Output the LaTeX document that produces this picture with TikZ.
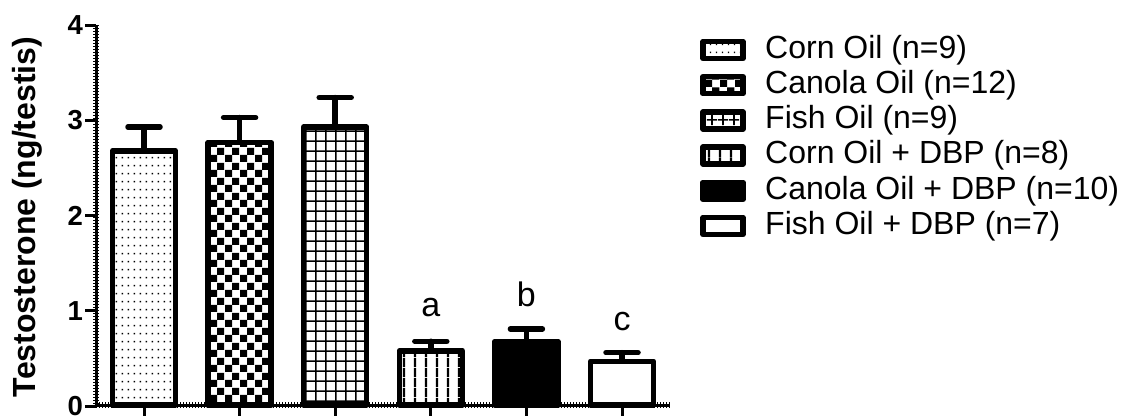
\documentclass[tikz,border=0pt]{standalone}
\usepackage{fontspec}
\setmainfont{Liberation Sans}
\usetikzlibrary{patterns.meta}

% fills of the six groups
\tikzdeclarepattern{
    name=dotfill,
    type=uncolored,
    bottom left={(0pt,0pt)},
    top right={(6pt,8pt)},
    tile size={(6pt,8pt)},
    code={\fill (2pt,3pt) rectangle (3.7pt,4.7pt);}
}
\tikzdeclarepattern{
    name=checkfill,
    type=uncolored,
    bottom left={(0pt,0pt)},
    top right={(15pt,15pt)},
    tile size={(15pt,15pt)},
    code={\fill (0pt,0pt) rectangle (7.5pt,7.5pt);
          \fill (7.5pt,7.5pt) rectangle (15pt,15pt);}
}
\tikzdeclarepattern{
    name=gridfill,
    type=uncolored,
    bottom left={(0pt,0pt)},
    top right={(10.4pt,10.4pt)},
    tile size={(10.4pt,10.4pt)},
    code={\draw[line width=1.6pt] (5.2pt,0pt) -- (5.2pt,10.4pt);
          \draw[line width=1.6pt] (0pt,5.2pt) -- (10.4pt,5.2pt);}
}
\tikzdeclarepattern{
    name=vlinefill,
    type=uncolored,
    bottom left={(0pt,0pt)},
    top right={(10.5pt,10pt)},
    tile size={(10.5pt,10pt)},
    code={\draw[line width=2.2pt] (5.25pt,0pt) -- (5.25pt,10pt);}
}

\tikzset{
    cornoil/.style={pattern=dotfill},
    canolaoil/.style={pattern=checkfill},
    fishoil/.style={pattern=gridfill},
    corndbp/.style={pattern=vlinefill},
    canoladbp/.style={fill=black},
    fishdbp/.style={fill=white},
    barbox/.style={draw=black, line width=5.5pt, line join=round},
    errbar/.style={line width=5.5pt, line cap=round},
    axisline/.style={line width=3pt},
    ruler/.style={line width=5.5pt, dash pattern=on 0.7pt off 2.3pt},
    ticklab/.style={font=\fontsize{27.5}{27.5}\selectfont\bfseries, anchor=east, inner sep=0pt},
    legtext/.style={font=\fontsize{32}{32}\selectfont, anchor=west, inner sep=0pt},
    letter/.style={font=\fontsize{34}{34}\selectfont, anchor=base, inner sep=0pt}
}

\begin{document}
\begin{tikzpicture}[x=1pt,y=-1pt]
    \useasboundingbox (0,0) rectangle (1132,416);

    % axes
    \draw[axisline] (96,25) -- (96,406.5);
    \draw[ruler] (96,25) -- (96,405);
    \draw[axisline] (94.5,405) -- (670,405);
    \draw[ruler] (96,405) -- (670,405);

    % y ticks
    \foreach \v in {0,...,4} {
        \draw[axisline] (85,{406-95.2*\v}) -- (96,{406-95.2*\v});
        \node[ticklab] (ytick\v) at (83,{406-95.2*\v}) {\v};
    }
    \node[font=\fontsize{32}{32}\selectfont\bfseries, rotate=90] (ytitle) at (27,217) {Testosterone (ng/testis)};

    % bars with error bars
    \foreach \cx/\val/\err/\sty in {144/2.68/2.93/cornoil, 239.6/2.77/3.03/canolaoil,
        335.2/2.93/3.24/fishoil, 430.8/0.58/0.68/corndbp, 526.4/0.68/0.81/canoladbp,
        622/0.47/0.56/fishdbp} {
        \draw[errbar] (\cx,{406-95.2*\val}) -- (\cx,{406-95.2*\err});
        \draw[errbar] (\cx-16,{406-95.2*\err}) -- (\cx+16,{406-95.2*\err});
        \draw[barbox,\sty] (\cx-31.5,405) rectangle (\cx+31.5,{406-95.2*\val});
        \draw[axisline] (\cx,405) -- (\cx,416);
    }

    % letters over the DBP groups
    \node[letter] (mark-a) at (430.8,316) {a};
    \node[letter] (mark-b) at (526.4,306) {b};
    \node[letter] (mark-c) at (622,330) {c};

    % legend
    \foreach \k/\sty/\txt in {0/cornoil/Corn Oil (n=9), 1/canolaoil/Canola Oil (n=12),
        2/fishoil/Fish Oil (n=9), 3/corndbp/Corn Oil + DBP (n=8),
        4/canoladbp/Canola Oil + DBP (n=10), 5/fishdbp/Fish Oil + DBP (n=7)} {
        \draw[barbox,\sty] (703,{50+35.2*\k-8.5}) rectangle (743,{50+35.2*\k+8.5});
        \node[legtext] (leg\k) at (765,{50+35.2*\k}) {\txt};
    }
\end{tikzpicture}
\end{document}
